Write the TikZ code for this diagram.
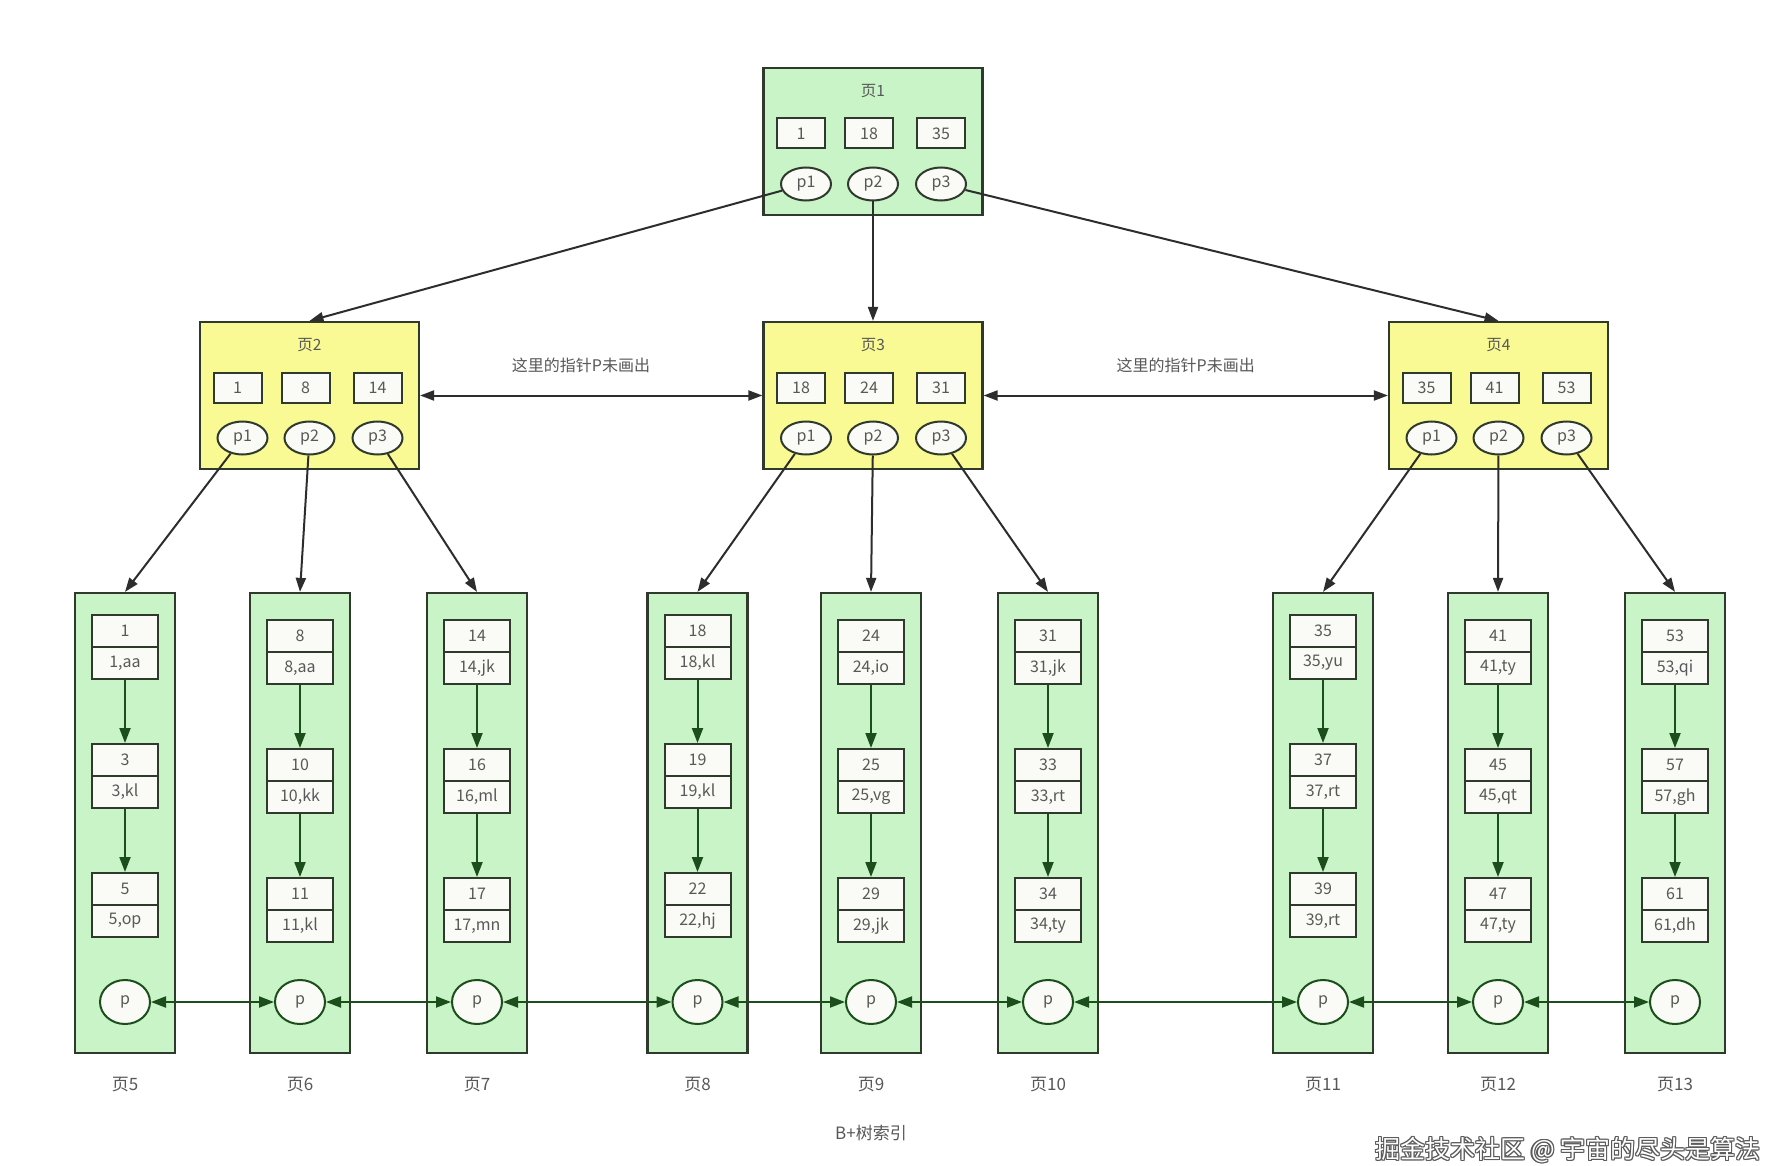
\documentclass[tikz,border=0pt]{standalone}
\usepackage{fontspec}
\setmainfont{Noto Sans CJK SC}
\usepackage{xcolor}
\usepackage{tikz}
\usetikzlibrary{positioning, arrows.meta, shapes.geometric}

\begin{document}
\begin{tikzpicture}[x=1pt, y=-1pt,
        pagebox/.style={draw=boxline, line width=2.2pt, minimum width=219pt, minimum height=147pt, inner sep=0pt},
        pagetitle/.style={text=txtgray, font=\fontsize{15.5}{17}\selectfont},
        keybox/.style={draw=boxline, line width=2pt, fill=keyfill, minimum width=48pt, minimum height=30pt, inner sep=0pt, text=txtgray, font=\fontsize{16}{18}\selectfont},
        ptrnode/.style={ellipse, draw=boxline, line width=2pt, fill=keyfill, minimum width=50pt, minimum height=33pt, inner sep=0pt, text=txtgray, font=\fontsize{16}{18}\selectfont},
        leafbox/.style={draw=boxline, line width=2.2pt, fill=pagegreen, minimum width=100pt, minimum height=460pt, inner sep=0pt},
        recbox/.style={draw=boxline, line width=2pt, fill=keyfill, minimum width=66pt, minimum height=32pt, inner sep=0pt, text=txtgray, font=\fontsize{16}{18}\selectfont},
        pnode/.style={ellipse, draw=linkgreen, line width=2pt, fill=keyfill, minimum width=50pt, minimum height=44pt, inner sep=0pt, text=txtgray, font=\fontsize{16}{18}\selectfont},
        leaflabel/.style={text=txtgray, font=\fontsize{17}{19}\selectfont},
        notetext/.style={text=txtgray, font=\fontsize{16}{18}\selectfont},
        treearrow/.style={-{Triangle[length=14pt, width=10pt]}, line width=2pt, draw=arrowgray},
        midlink/.style={{Triangle[length=14pt, width=10pt]}-{Triangle[length=14pt, width=10pt]}, line width=2pt, draw=arrowgray},
        leafarrow/.style={-{Triangle[length=15pt, width=11pt]}, line width=2pt, draw=linkgreen},
        plink/.style={{Triangle[length=15pt, width=11pt]}-{Triangle[length=15pt, width=11pt]}, line width=2pt, draw=linkgreen},
        wmark/.style={font=\fontsize{25}{28}\selectfont}]
        % Colours
        \definecolor{pagegreen}{RGB}{200, 244, 200}
        \definecolor{pageyellow}{RGB}{250, 250, 148}
        \definecolor{keyfill}{RGB}{250, 251, 246}
        \definecolor{boxline}{RGB}{48, 58, 44}
        \definecolor{linkgreen}{RGB}{28, 78, 28}
        \definecolor{arrowgray}{RGB}{45, 45, 45}
        \definecolor{txtgray}{RGB}{88, 88, 88}
        \definecolor{wmgray}{RGB}{90, 90, 90}

        % Canvas
        \fill[white] (0, 0) rectangle (1790, 1166);
        \useasboundingbox (0, 0) rectangle (1790, 1166);

        % 1. Root and inner pages (page 1 .. page 4)
        \foreach \n/\cx/\cy/\bg/\ka/\kb/\kc in {1/873/141.5/pagegreen/1/18/35,
                2/309.5/395.5/pageyellow/1/8/14,
                3/873/395.5/pageyellow/18/24/31,
                4/1498.5/395.5/pageyellow/35/41/53} {
            \node[pagebox, fill=\bg] (page\n) at (\cx, \cy) {};
            \node[pagetitle] (title\n) at (\cx, \cy-50.5) {页\n};
            \node[keybox] (key\n-1) at (\cx-72, \cy-8) {\ka};
            \node[keybox] (key\n-2) at (\cx-4, \cy-8) {\kb};
            \node[keybox] (key\n-3) at (\cx+68, \cy-8) {\kc};
            \node[ptrnode] (ptr\n-1) at (\cx-67, \cy+42.5) {p1};
            \node[ptrnode] (ptr\n-2) at (\cx, \cy+42.5) {p2};
            \node[ptrnode] (ptr\n-3) at (\cx+68, \cy+42.5) {p3};
        }

        % 2. Leaf pages (page 5 .. page 13) with their records
        \foreach \n/\cx/\dy/\ka/\va/\kb/\vb/\kc/\vc in {
                5/125/0/1/{1,aa}/3/{3,kl}/5/{5,op},
                6/300/5/8/{8,aa}/10/{10,kk}/11/{11,kl},
                7/477/5/14/{14,jk}/16/{16,ml}/17/{17,mn},
                8/697.5/0/18/{18,kl}/19/{19,kl}/22/{22,hj},
                9/871/5/24/{24,io}/25/{25,vg}/29/{29,jk},
                10/1048/5/31/{31,jk}/33/{33,rt}/34/{34,ty},
                11/1323/0/35/{35,yu}/37/{37,rt}/39/{39,rt},
                12/1498/5/41/{41,ty}/45/{45,qt}/47/{47,ty},
                13/1675/5/53/{53,qi}/57/{57,gh}/61/{61,dh}} {
            \node[leafbox] (leaf\n) at (\cx, 823) {};
            \foreach \j/\rkey/\rval in {1/\ka/\va, 2/\kb/\vb, 3/\kc/\vc} {
                \node[recbox] (k\n-\j) at (\cx, {631+\dy+(\j-1)*129}) {\rkey};
                \node[recbox] (v\n-\j) at (\cx, {663+\dy+(\j-1)*129}) {\rval};
            }
            \draw[leafarrow] (v\n-1.south) -- (k\n-2.north);
            \draw[leafarrow] (v\n-2.south) -- (k\n-3.north);
            \node[pnode] (p\n) at (\cx, 1002) {p};
            \node[leaflabel] (lbl\n) at (\cx, 1085) {页\n};
        }

        % 3. Pointers from the root to the inner pages
        \draw[treearrow] (ptr1-1) -- (page2.north);
        \draw[treearrow] (ptr1-2) -- (page3.north);
        \draw[treearrow] (ptr1-3) -- (page4.north);

        % 4. Pointers from the inner pages to the leaves
        \foreach \n/\a/\b/\c in {2/5/6/7, 3/8/9/10, 4/11/12/13} {
            \draw[treearrow] (ptr\n-1) -- (leaf\a.north);
            \draw[treearrow] (ptr\n-2) -- (leaf\b.north);
            \draw[treearrow] (ptr\n-3) -- (leaf\c.north);
        }

        % 5. Links between inner pages
        \draw[midlink] (page2.east) -- node[pos=0.47, above=18pt, notetext] (note1) {这里的指针P未画出} (page3.west);
        \draw[midlink] (page3.east) -- node[midway, above=18pt, notetext] (note2) {这里的指针P未画出} (page4.west);

        % 6. Links between leaves
        \foreach \a/\b in {5/6, 6/7, 7/8, 8/9, 9/10, 10/11, 11/12, 12/13}
            \draw[plink] (p\a) -- (p\b);

        % 7. Caption and watermark
        \node[notetext, font=\fontsize{17}{19}\selectfont] (caption) at (871, 1133) {B+树索引};
        \foreach \ang in {0, 45, ..., 315}
            \node[wmark, text=wmgray] at ([shift={(\ang:1.3pt)}] 1568, 1150) {掘金技术社区 @ 宇宙的尽头是算法};
        \node[wmark, text=white] (wmark) at (1568, 1150) {掘金技术社区 @ 宇宙的尽头是算法};

    \end{tikzpicture}
\end{document}
